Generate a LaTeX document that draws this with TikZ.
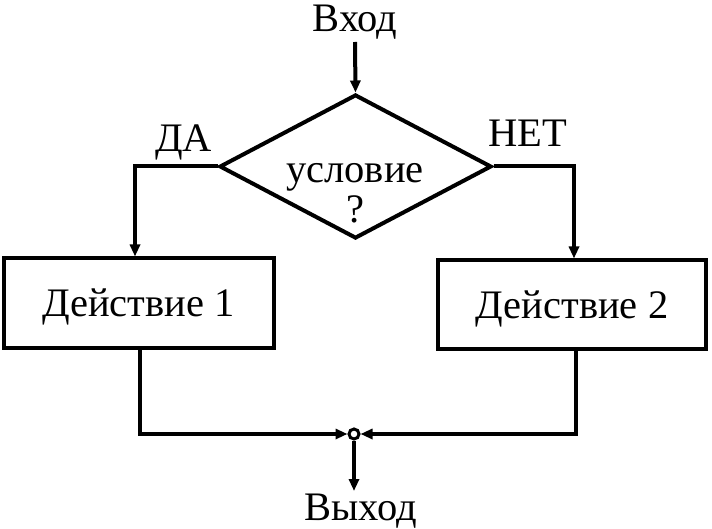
\documentclass[tikz,border=0pt]{standalone}
\usepackage{fontspec}
\setmainfont{Liberation Serif}
\usetikzlibrary{shapes.geometric,arrows.meta}
\tikzset{
  lbl/.style={font=\fontsize{40.5}{42}\selectfont, inner sep=0pt, anchor=base},
  actbox/.style={draw, line width=4pt, minimum width=270pt, minimum height=89pt, inner sep=0pt, text depth=0pt, font=\fontsize{40.5}{42}\selectfont},
  cond/.style={draw, diamond, line width=4pt, minimum width=272pt, minimum height=144pt, inner sep=0pt},
  flow/.style={line width=4pt, -{Triangle[length=12pt,width=10pt]}},
  joint/.style={draw, circle, line width=3pt, minimum size=10pt, inner sep=0pt}
}
\begin{document}
\begin{tikzpicture}[x=1pt,y=-1pt]
\useasboundingbox (0,0) rectangle (712,529);
\node[lbl] (in) at (355,32) {Вход};
\coordinate (vin) at (355,42);
\node[cond] (dia) at (355.5,166.5) {};
\node[lbl] (c1) at (355,183) {условие};
\node[lbl] (c2) at (355,223) {?};
\node[lbl] (yes) at (183.5,152) {ДА};
\node[lbl] (no) at (527.5,147) {НЕТ};
\node[actbox] (b1) at (138.5,303) {Действие 1};
\node[actbox, minimum width=268pt, minimum height=88pt] (b2) at (572,304.5) {Действие 2};
\node[joint] (m) at (354,434) {};
\node[lbl] (out) at (361,520) {Выход};
\coordinate (vout) at (354,491);
\draw[flow] (vin) -- (dia.north);
\draw[flow] (dia.west) -| ([xshift=-3.5pt]b1.north);
\draw[flow] (dia.east) -| ([xshift=2pt]b2.north);
\draw[flow] ([xshift=1.5pt]b1.south) |- (m.west);
\draw[flow] ([xshift=4pt]b2.south) |- (m.east);
\draw[flow] (m.south) -- (vout);
\end{tikzpicture}
\end{document}
